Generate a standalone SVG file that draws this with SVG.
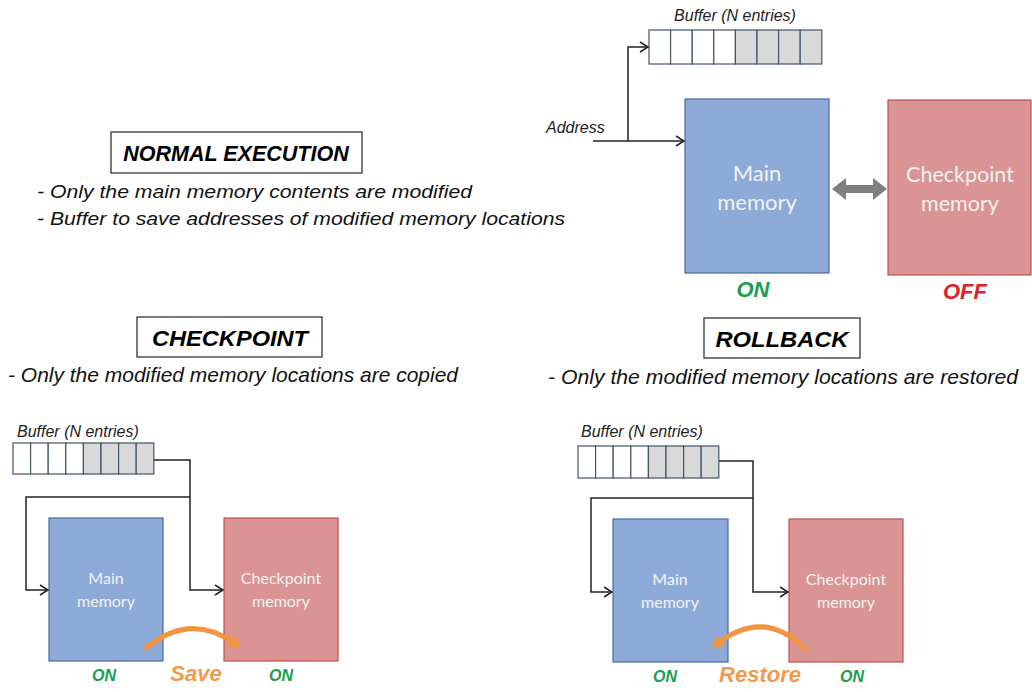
<svg xmlns="http://www.w3.org/2000/svg" width="1032" height="692" viewBox="0 0 1032 692">
<style>
.bg{fill:#ffffff}
.title{font-family:"Liberation Sans",Arial,sans-serif;font-weight:bold;font-style:italic;fill:#000}
.tbox{fill:#fff;stroke:#333;stroke-width:1.3}
.bul{font-family:"Liberation Sans",Arial,sans-serif;font-style:italic;fill:#111}
.lbl{font-family:"Liberation Sans",Arial,sans-serif;font-style:italic;fill:#222}
.cellw{fill:#fff;stroke:#44546a;stroke-width:1.2}
.cellg{fill:#d9d9d9;stroke:#44546a;stroke-width:1.2}
.main{fill:#8eaad8;stroke:#4a6a9a;stroke-width:1.2}
.ckpt{fill:#d99493;stroke:#c0504d;stroke-width:1.2}
.mtxt{font-family:Lato,"Open Sans",sans-serif;fill:#f2f2f2;text-anchor:middle}
.on{font-family:"Liberation Sans",Arial,sans-serif;font-weight:bold;font-style:italic;fill:#1a9e4f;text-anchor:middle}
.off{font-family:"Liberation Sans",Arial,sans-serif;font-weight:bold;font-style:italic;fill:#e0202a;text-anchor:middle}
.act{font-family:"Liberation Sans",Arial,sans-serif;font-weight:bold;font-style:italic;fill:#f39a4a;text-anchor:middle}
.wire{fill:none;stroke:#222;stroke-width:1.5}
.orange{fill:none;stroke:#f39540;stroke-width:5;stroke-linecap:round}
</style>
<defs>
<marker id="open" markerWidth="12" markerHeight="12" refX="10" refY="6" orient="auto" markerUnits="userSpaceOnUse">
<path d="M2,1 L10,6 L2,11" fill="none" stroke="#222" stroke-width="1.5"/>
</marker>
<marker id="ohead" markerWidth="16" markerHeight="16" refX="4" refY="8" orient="auto" markerUnits="userSpaceOnUse">
<path d="M0,1 L12,8 L0,15 Z" fill="#f39540"/>
</marker>
</defs>
<rect class="bg" x="0" y="0" width="1032" height="692"/>

<!-- Normal execution heading -->
<g id="normal-title">
<rect class="tbox" x="111" y="132" width="251" height="41"/>
<text class="title" x="236" y="161" font-size="21.5" text-anchor="middle">NORMAL EXECUTION</text>
</g>
<g id="normal-text">
<text class="bul" x="37" y="198" font-size="18" textLength="435" lengthAdjust="spacingAndGlyphs">- Only the main memory contents are modified</text>
<text class="bul" x="37" y="225" font-size="18" textLength="528" lengthAdjust="spacingAndGlyphs">- Buffer to save addresses of modified memory locations</text>
</g>

<!-- Top right: normal execution diagram -->
<g id="buffer-top">
<text class="lbl" x="735" y="21" font-size="16" text-anchor="middle">Buffer (N entries)</text>
<rect class="cellw" x="649" y="30" width="21.6" height="34"/>
<rect class="cellw" x="670.6" y="30" width="21.6" height="34"/>
<rect class="cellw" x="692.2" y="30" width="21.6" height="34"/>
<rect class="cellw" x="713.8" y="30" width="21.6" height="34"/>
<rect class="cellg" x="735.4" y="30" width="21.6" height="34"/>
<rect class="cellg" x="757" y="30" width="21.6" height="34"/>
<rect class="cellg" x="778.6" y="30" width="21.6" height="34"/>
<rect class="cellg" x="800.2" y="30" width="21.6" height="34"/>
</g>
<g id="address-label">
<text class="lbl" x="546" y="133" font-size="16">Address</text>
</g>
<g id="main-top">
<rect class="main" x="685" y="99" width="144" height="174"/>
<text class="mtxt" x="757" y="181" font-size="22">Main</text>
<text class="mtxt" x="757" y="210" font-size="22">memory</text>
<text class="on" x="753" y="297" font-size="22">ON</text>
</g>
<g id="ckpt-top">
<rect class="ckpt" x="888" y="100" width="143" height="175"/>
<text class="mtxt" x="960" y="182" font-size="21.5">Checkpoint</text>
<text class="mtxt" x="960" y="211" font-size="21.5">memory</text>
<text class="off" x="965" y="299" font-size="22">OFF</text>
</g>

<!-- Checkpoint section heading -->
<g id="checkpoint-title">
<rect class="tbox" x="137" y="317" width="185" height="40"/>
<text class="title" x="230" y="346" font-size="22" text-anchor="middle" textLength="156" lengthAdjust="spacingAndGlyphs">CHECKPOINT</text>
<text class="bul" x="8" y="382" font-size="21" textLength="450" lengthAdjust="spacingAndGlyphs">- Only the modified memory locations are copied</text>
</g>

<!-- Rollback section heading -->
<g id="rollback-title">
<rect class="tbox" x="704" y="318" width="156" height="40"/>
<text class="title" x="782" y="347" font-size="22" text-anchor="middle" textLength="133" lengthAdjust="spacingAndGlyphs">ROLLBACK</text>
<text class="bul" x="548" y="384" font-size="21" textLength="470" lengthAdjust="spacingAndGlyphs">- Only the modified memory locations are restored</text>
</g>

<!-- Checkpoint diagram -->
<g id="buffer-ckpt">
<text class="lbl" x="17" y="437" font-size="16">Buffer (N entries)</text>
<rect class="cellw" x="13" y="443" width="17.6" height="31"/>
<rect class="cellw" x="30.6" y="443" width="17.6" height="31"/>
<rect class="cellw" x="48.2" y="443" width="17.6" height="31"/>
<rect class="cellw" x="65.8" y="443" width="17.6" height="31"/>
<rect class="cellg" x="83.4" y="443" width="17.6" height="31"/>
<rect class="cellg" x="101" y="443" width="17.6" height="31"/>
<rect class="cellg" x="118.6" y="443" width="17.6" height="31"/>
<rect class="cellg" x="136.2" y="443" width="17.6" height="31"/>
</g>
<g id="main-ckpt">
<rect class="main" x="49" y="518" width="114" height="143"/>
<text class="mtxt" x="106" y="584" font-size="16">Main</text>
<text class="mtxt" x="106" y="607" font-size="16">memory</text>
<text class="on" x="104" y="681" font-size="16">ON</text>
</g>
<g id="ckpt-ckpt">
<rect class="ckpt" x="224" y="518" width="114" height="143"/>
<text class="mtxt" x="281" y="584" font-size="16">Checkpoint</text>
<text class="mtxt" x="281" y="607" font-size="16">memory</text>
<text class="on" x="281" y="681" font-size="16">ON</text>
</g>
<g id="save-label">
<text class="act" x="196" y="681" font-size="22">Save</text>
</g>

<!-- Rollback diagram -->
<g id="buffer-roll">
<text class="lbl" x="581" y="437" font-size="16">Buffer (N entries)</text>
<rect class="cellw" x="578" y="446" width="17.6" height="32"/>
<rect class="cellw" x="595.6" y="446" width="17.6" height="32"/>
<rect class="cellw" x="613.2" y="446" width="17.6" height="32"/>
<rect class="cellw" x="630.8" y="446" width="17.6" height="32"/>
<rect class="cellg" x="648.4" y="446" width="17.6" height="32"/>
<rect class="cellg" x="666" y="446" width="17.6" height="32"/>
<rect class="cellg" x="683.6" y="446" width="17.6" height="32"/>
<rect class="cellg" x="701.2" y="446" width="17.6" height="32"/>
</g>
<g id="main-roll">
<rect class="main" x="613" y="519" width="115" height="143"/>
<text class="mtxt" x="670" y="585" font-size="16">Main</text>
<text class="mtxt" x="670" y="608" font-size="16">memory</text>
<text class="on" x="665" y="682" font-size="16">ON</text>
</g>
<g id="ckpt-roll">
<rect class="ckpt" x="789" y="519" width="114" height="143"/>
<text class="mtxt" x="846" y="585" font-size="16">Checkpoint</text>
<text class="mtxt" x="846" y="608" font-size="16">memory</text>
<text class="on" x="852" y="682" font-size="16">ON</text>
</g>
<g id="restore-label">
<text class="act" x="760" y="682" font-size="22">Restore</text>
</g>

<!-- Connectors -->
<g id="connectors">
<path class="wire" d="M593,141 L684,141" marker-end="url(#open)"/>
<path class="wire" d="M628,141 L628,47 L648,47" marker-end="url(#open)"/>
<polygon points="832,189 846,178 846,185 873,185 873,178 887,189 873,200 873,193 846,193 846,200" fill="#7f7f7f"/>

<path class="wire" d="M154,460 L190,460 L190,590 L223,590" marker-end="url(#open)"/>
<path class="wire" d="M190,497 L26,497 L26,590 L48,590" marker-end="url(#open)"/>
<path class="orange" d="M146,648 Q190,612 234,643" marker-end="url(#ohead)"/>

<path class="wire" d="M719,461 L753,461 L753,592 L788,592" marker-end="url(#open)"/>
<path class="wire" d="M753,498 L591,498 L591,592 L612,592" marker-end="url(#open)"/>
<path class="orange" d="M805,649 Q765,608 718,643" marker-end="url(#ohead)"/>
</g>
</svg>
